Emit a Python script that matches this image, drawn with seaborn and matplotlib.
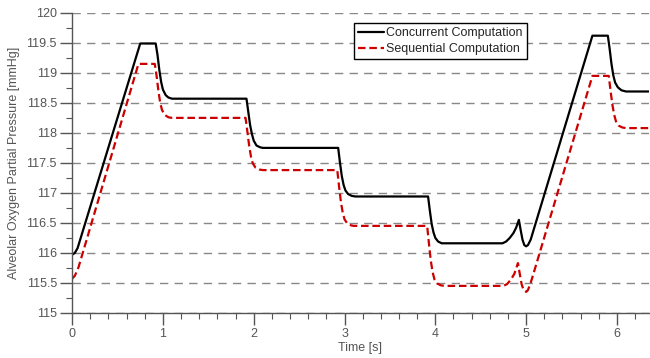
import pandas as pd
import seaborn as sns
import matplotlib.pyplot as plt
from matplotlib.ticker import MultipleLocator, FuncFormatter

# values
t_conc = [0.00, 0.03, 0.06, 0.75, 0.92, 0.94, 0.96, 0.98, 1.00, 1.03, 1.06, 1.10,
          1.92, 1.94, 1.96, 1.98, 2.00, 2.03, 2.07, 2.10,
          2.93, 2.95, 2.97, 2.99, 3.01, 3.04, 3.08, 3.12,
          3.92, 3.94, 3.96, 3.98, 4.00, 4.03, 4.07, 4.10,
          4.74, 4.78, 4.82, 4.86, 4.89, 4.92, 4.94, 4.96, 4.98, 5.00, 5.02, 5.05, 5.09,
          5.73, 5.90, 5.92, 5.94, 5.96, 5.98, 6.01, 6.05, 6.10, 6.35]
p_conc = [115.97, 116.00, 116.08, 119.49, 119.49, 119.30, 119.05, 118.85, 118.72, 118.63, 118.59, 118.57,
          118.57, 118.35, 118.13, 117.98, 117.87, 117.79, 117.76, 117.75,
          117.75, 117.50, 117.28, 117.13, 117.04, 116.98, 116.95, 116.94,
          116.94, 116.70, 116.48, 116.34, 116.25, 116.19, 116.16, 116.16,
          116.16, 116.19, 116.25, 116.33, 116.42, 116.55, 116.38, 116.22, 116.13, 116.11, 116.13, 116.22, 116.42,
          119.62, 119.62, 119.40, 119.15, 118.96, 118.84, 118.76, 118.71, 118.69, 118.69]

t_seq = [0.00, 0.03, 0.07, 0.73, 0.91, 0.93, 0.95, 0.97, 0.99, 1.02, 1.06, 1.10,
         1.91, 1.93, 1.95, 1.97, 1.99, 2.02, 2.06, 2.10,
         2.92, 2.94, 2.96, 2.98, 3.00, 3.03, 3.07, 3.10,
         3.91, 3.93, 3.95, 3.97, 3.99, 4.02, 4.06, 4.10,
         4.75, 4.79, 4.83, 4.87, 4.91, 4.93, 4.95, 4.97, 5.00, 5.02, 5.05, 5.09,
         5.73, 5.91, 5.93, 5.95, 5.97, 5.99, 6.02, 6.06, 6.10, 6.35]
p_seq = [115.57, 115.62, 115.76, 119.15, 119.15, 118.95, 118.70, 118.50, 118.38, 118.30, 118.26, 118.25,
         118.25, 118.02, 117.78, 117.60, 117.49, 117.42, 117.39, 117.38,
         117.38, 117.10, 116.85, 116.67, 116.56, 116.49, 116.46, 116.45,
         116.45, 116.15, 115.87, 115.68, 115.56, 115.49, 115.46, 115.45,
         115.45, 115.48, 115.55, 115.65, 115.83, 115.65, 115.48, 115.39, 115.35, 115.38, 115.50, 115.70,
         118.95, 118.95, 118.70, 118.47, 118.30, 118.19, 118.12, 118.09, 118.08, 118.08]

series_names = ['Concurrent Computation', 'Sequential Computation']

df = pd.concat([
    pd.DataFrame({'Time': t_conc, 'Pressure': p_conc, 'Series': series_names[0]}),
    pd.DataFrame({'Time': t_seq, 'Pressure': p_seq, 'Series': series_names[1]}),
], ignore_index=True)

sns.set_theme(style='white')
plt.rcParams['font.family'] = ['Liberation Sans', 'DejaVu Sans']
grey = '#555555'

fig = plt.figure(figsize=(6.5, 3.58), dpi=100)
ax = fig.add_axes([0.111, 0.126, 0.887, 0.838])

palette = {series_names[0]: 'black', series_names[1]: '#cc0000'}
dashes = {series_names[0]: '', series_names[1]: (3.4, 1.7)}
sns.lineplot(data=df, x='Time', y='Pressure', hue='Series', style='Series',
             palette=palette, dashes=dashes, estimator=None, sort=False,
             linewidth=1.6, ax=ax)

ax.set_xlim(0, 6.35)
ax.set_ylim(115, 120)
ax.xaxis.set_major_locator(MultipleLocator(1))
ax.xaxis.set_minor_locator(MultipleLocator(0.2))
ax.yaxis.set_major_locator(MultipleLocator(0.5))
ax.yaxis.set_minor_locator(MultipleLocator(0.25))
ax.yaxis.set_major_formatter(FuncFormatter(lambda v, pos: f'{v:g}'))

ax.grid(True, axis='y', which='major', color='#888888', linewidth=1.0,
        linestyle=(0, (6, 4.5)))
ax.set_axisbelow(True)

ax.tick_params(which='major', direction='out', length=8.5, width=1.0, color=grey,
               labelsize=9, labelcolor=grey, pad=2.5, left=True, bottom=True)
ax.tick_params(which='minor', direction='out', length=4.3, width=0.8, color=grey,
               left=True, bottom=True)

sns.despine(ax=ax)
for side in ['left', 'bottom']:
    ax.spines[side].set_color(grey)
    ax.spines[side].set_linewidth(1.0)

ax.set_xlabel('Time [s]', fontsize=9, color=grey, labelpad=1.5)
ax.set_ylabel('Alveolar Oxygen Partial Pressure [mmHg]', fontsize=9, color=grey, labelpad=5)

handles, labels = ax.get_legend_handles_labels()
leg = ax.legend(handles=handles, labels=labels, loc='upper right',
                bbox_to_anchor=(0.789, 0.967), fontsize=9, frameon=True,
                fancybox=False, handlelength=2.1, handletextpad=0.15,
                labelspacing=0.3, borderpad=0.35, borderaxespad=0)
leg.get_frame().set_edgecolor('black')
leg.get_frame().set_linewidth(1.0)
leg.get_frame().set_alpha(1)

fig.savefig('out.png', dpi=100)
